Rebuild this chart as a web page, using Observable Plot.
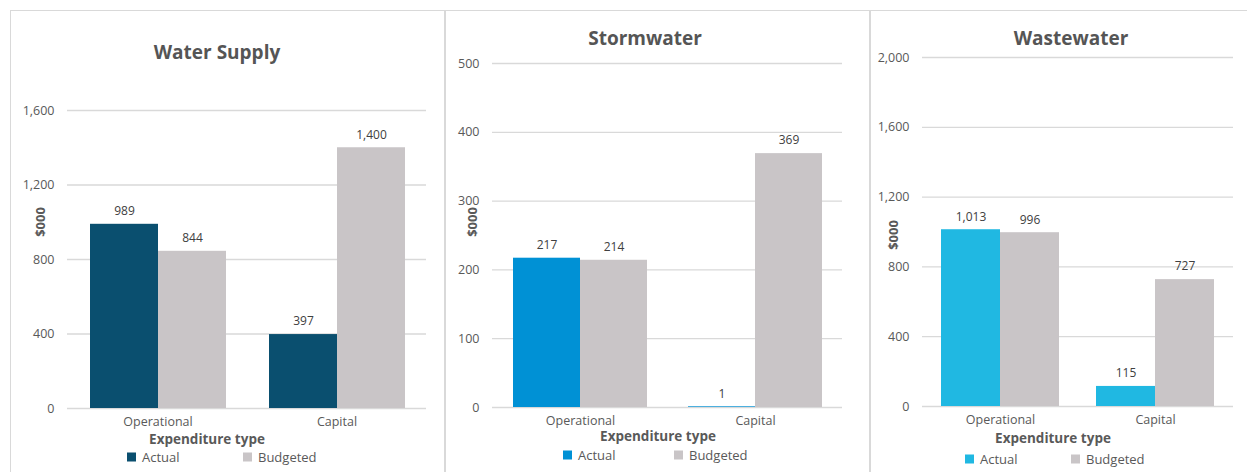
<!DOCTYPE html>
<html>
<head>
<meta charset="utf-8">
<script src="https://cdn.jsdelivr.net/npm/d3@7"></script>
<script src="https://cdn.jsdelivr.net/npm/@observablehq/plot@0.6"></script>
<style>
  body { margin: 0; background: #fff; font-family: "Open Sans", sans-serif; }
  #page { position: relative; width: 1247px; height: 472px; overflow: hidden; background: #fff; }
  .panel { position: absolute; top: 10px; height: 480px; border: 1px solid #d9d9d9; box-sizing: border-box; }
  .abs { position: absolute; white-space: nowrap; line-height: 1; }
  .title { font-weight: 700; font-size: 19px; color: #555; transform: translate(-50%, -50%); }
  .ylab { font-weight: 700; font-size: 13px; color: #595959; transform: translate(-50%, -50%) rotate(-90deg); }
  .xlab { font-weight: 700; font-size: 13.5px; color: #595959; transform: translate(-50%, -50%); }
  .leg { font-size: 13px; color: #595959; transform: translateY(-50%); display: flex; align-items: center; }
  .sw { width: 9px; height: 9px; margin-right: 6px; display: inline-block; }
  svg.chart { position: absolute; top: 0; }
</style>
</head>
<body>
<div id="page"></div>
<script>
// Expenditure categories and series
const categories = ["Operational", "Capital"];
const series = ["Actual", "Budgeted"];

// Values in $000
const waterSupplyActual = [989, 397];
const waterSupplyBudgeted = [844, 1400];
const stormwaterActual = [217, 1];
const stormwaterBudgeted = [214, 369];
const wastewaterActual = [1013, 115];
const wastewaterBudgeted = [996, 727];

// Y-axis tick values
const waterSupplyTicks = [0, 400, 800, 1200, 1600];
const stormwaterTicks = [0, 100, 200, 300, 400, 500];
const wastewaterTicks = [0, 400, 800, 1200, 1600, 2000];

const budgetColor = "#c9c5c7";
const fmt = d3.format(",");
const fontStyle = { fontFamily: '"Open Sans", sans-serif', fontSize: "12.5px", color: "#595959", background: "transparent", overflow: "visible" };

const panels = [
  {
    title: "Water Supply", actual: waterSupplyActual, budgeted: waterSupplyBudgeted,
    ticks: waterSupplyTicks, color: "#0a4f6f",
    box: { left: 10, width: 435 },
    svg: { left: 10, width: 434, mt: 110, mb: 64, ml: 57, mr: 18 },
    titlePos: [217, 52], ylabPos: [40, 222], xlabPos: [207, 440],
    legendY: 457, legendX: [127, 243]
  },
  {
    title: "Stormwater", actual: stormwaterActual, budgeted: stormwaterBudgeted,
    ticks: stormwaterTicks, color: "#0091d5",
    box: { left: 445, width: 425 },
    svg: { left: 445, width: 424, mt: 63, mb: 65, ml: 47, mr: 27 },
    titlePos: [645, 38], ylabPos: [472, 222], xlabPos: [658, 437],
    legendY: 455, legendX: [563, 674]
  },
  {
    title: "Wastewater", actual: wastewaterActual, budgeted: wastewaterBudgeted,
    ticks: wastewaterTicks, color: "#20b8e2",
    box: { left: 870, width: 400 },
    svg: { left: 870, width: 377, mt: 57, mb: 66, ml: 52, mr: 14 },
    titlePos: [1071, 38], ylabPos: [893, 235], xlabPos: [1053, 439],
    legendY: 459, legendX: [965, 1071]
  }
];

const page = document.getElementById("page");

function addDiv(cls, x, y, html) {
  const d = document.createElement("div");
  d.className = "abs " + cls;
  d.style.left = x + "px";
  d.style.top = y + "px";
  d.innerHTML = html;
  page.appendChild(d);
  return d;
}

function place(svg, left) {
  svg.classList.add("chart");
  svg.style.left = left + "px";
  page.appendChild(svg);
}

for (const p of panels) {
  const box = document.createElement("div");
  box.className = "panel";
  box.style.left = p.box.left + "px";
  box.style.width = p.box.width + "px";
  page.appendChild(box);

  const frame = {
    width: p.svg.width,
    height: 472,
    marginTop: p.svg.mt,
    marginBottom: p.svg.mb,
    marginLeft: p.svg.ml,
    marginRight: p.svg.mr,
    style: fontStyle
  };
  const yScale = { domain: [0, d3.max(p.ticks)] };

  // Gridlines and value axis spanning the full plot width
  place(Plot.plot({
    ...frame,
    x: { domain: categories, axis: null },
    y: yScale,
    marks: [
      Plot.ruleY(p.ticks, { stroke: "#d9d9d9", strokeWidth: 1.3 }),
      Plot.axisY({ ticks: p.ticks, tickSize: 0, tickPadding: 13, tickFormat: fmt, label: null })
    ]
  }), p.svg.left);

  // Clustered bars: one facet per expenditure type
  const rows = categories.flatMap((c, i) => [
    { category: c, series: "Actual", value: p.actual[i] },
    { category: c, series: "Budgeted", value: p.budgeted[i] }
  ]);
  place(Plot.plot({
    ...frame,
    fx: { domain: categories, paddingInner: 0.237, paddingOuter: 0.118, label: null },
    x: { domain: series, padding: 0, axis: null },
    y: { ...yScale, axis: null },
    color: { domain: series, range: [p.color, budgetColor] },
    marks: [
      Plot.barY(rows, { fx: "category", x: "series", y: "value", fill: "series" }),
      Plot.text(rows, { fx: "category", x: "series", y: "value", text: d => fmt(d.value), dy: -13, fontSize: 12, fill: "#404040" }),
      Plot.axisFx({ anchor: "bottom", tickSize: 0, tickPadding: 9, label: null })
    ]
  }), p.svg.left);

  addDiv("title", p.titlePos[0], p.titlePos[1], p.title);
  addDiv("ylab", p.ylabPos[0], p.ylabPos[1], "$000");
  addDiv("xlab", p.xlabPos[0], p.xlabPos[1], "Expenditure type");
  series.forEach((s, i) => {
    const col = i === 0 ? p.color : budgetColor;
    addDiv("leg", p.legendX[i], p.legendY, `<span class="sw" style="background:${col}"></span>${s}`);
  });
}
</script>
</body>
</html>
